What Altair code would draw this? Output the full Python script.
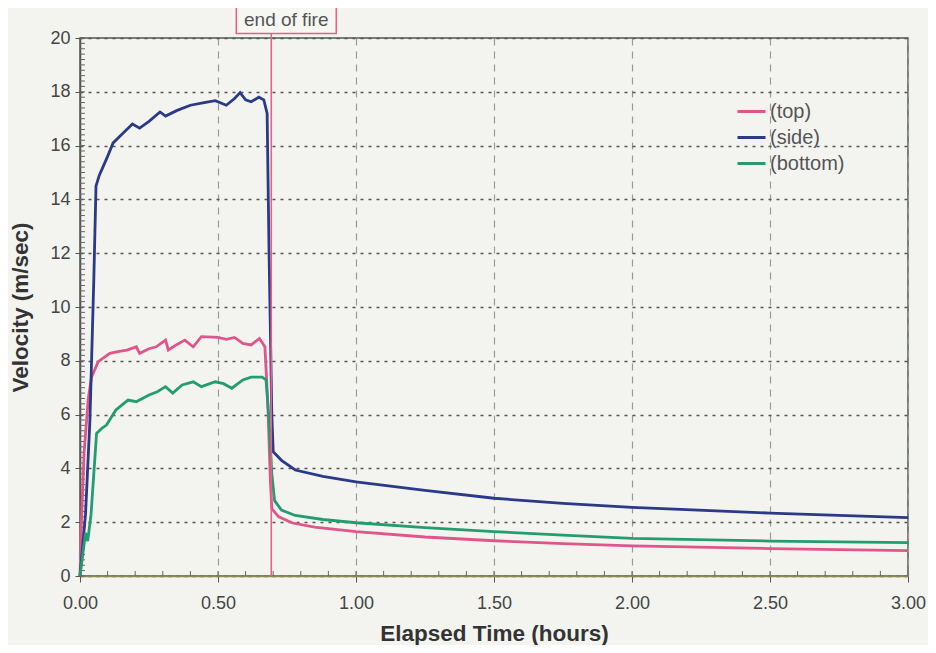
import altair as alt
import pandas as pd

# ---- data ----
top_t = [0, 0.005, 0.015, 0.03, 0.042, 0.066, 0.09, 0.108, 0.137, 0.17, 0.204, 0.216, 0.25, 0.276,
         0.31, 0.32, 0.35, 0.38, 0.41, 0.44, 0.5, 0.53, 0.56, 0.59, 0.62, 0.65, 0.67, 0.68, 0.69,
         0.695, 0.72, 0.77, 0.85, 1.0, 1.25, 1.5, 1.75, 2.0, 2.5, 3.0]
top_v = [0, 2.0, 4.6, 6.6, 7.4, 7.97, 8.15, 8.28, 8.34, 8.4, 8.52, 8.28, 8.45, 8.52,
         8.77, 8.4, 8.6, 8.77, 8.52, 8.9, 8.87, 8.8, 8.87, 8.65, 8.59, 8.83, 8.52, 6.5, 3.5,
         2.5, 2.2, 1.97, 1.82, 1.65, 1.45, 1.31, 1.2, 1.12, 1.02, 0.94]

side_t = [0, 0.02, 0.036, 0.05, 0.058, 0.07, 0.083, 0.1, 0.12, 0.15, 0.19, 0.216, 0.25, 0.29,
          0.31, 0.35, 0.40, 0.45, 0.49, 0.53, 0.56, 0.58, 0.60, 0.62, 0.648, 0.666, 0.678, 0.685,
          0.695, 0.70, 0.73, 0.78, 0.88, 1.0, 1.25, 1.5, 1.75, 2.0, 2.5, 3.0]
side_v = [0, 2.3, 5.8, 11, 14.5, 14.9, 15.2, 15.6, 16.1, 16.4, 16.8, 16.65, 16.9, 17.25,
          17.1, 17.3, 17.5, 17.6, 17.67, 17.5, 17.75, 17.97, 17.7, 17.63, 17.8, 17.7, 17.2, 12,
          6, 4.62, 4.3, 3.94, 3.7, 3.5, 3.18, 2.89, 2.7, 2.55, 2.34, 2.17]

bottom_t = [0, 0.01, 0.02, 0.028, 0.04, 0.05, 0.06, 0.08, 0.096, 0.13, 0.174, 0.204, 0.25, 0.28,
            0.31, 0.336, 0.37, 0.41, 0.44, 0.49, 0.52, 0.55, 0.59, 0.62, 0.66, 0.674, 0.685, 0.695,
            0.705, 0.73, 0.78, 0.88, 1.0, 1.25, 1.5, 1.75, 2.0, 2.5, 3.0]
bottom_v = [0, 0.8, 1.6, 1.3, 2.3, 3.8, 5.3, 5.5, 5.61, 6.17, 6.54, 6.48, 6.73, 6.85,
            7.04, 6.8, 7.1, 7.22, 7.04, 7.22, 7.15, 6.98, 7.29, 7.39, 7.39, 7.29, 5.8, 3.8,
            2.8, 2.45, 2.25, 2.1, 1.98, 1.8, 1.65, 1.52, 1.40, 1.3, 1.24]

series_names = ["(top)", "(side)", "(bottom)"]
series_colors = ["#e0558a", "#2b3a86", "#249c72"]

end_of_fire_t = [0.693]
end_of_fire_label = ["end of fire"]

x_ticks = [0, 0.5, 1.0, 1.5, 2.0, 2.5, 3.0]
y_ticks = [0, 2, 4, 6, 8, 10, 12, 14, 16, 18, 20]
x_minor = [i / 10 for i in range(31)]
y_minor = [i / 5 for i in range(101)]

rows = []
for name, ts, vs in zip(series_names, [top_t, side_t, bottom_t], [top_v, side_v, bottom_v]):
    for i, (t, v) in enumerate(zip(ts, vs)):
        rows.append({"series": name, "t": t, "v": v, "i": i})
df = pd.DataFrame(rows)

W, H = 828, 538
xs = alt.Scale(domain=[0, 3], nice=False)
ys = alt.Scale(domain=[0, 20], nice=False)

lines = alt.Chart(df).mark_line(strokeWidth=2.8).encode(
    x=alt.X("t:Q", scale=xs,
            axis=alt.Axis(values=x_ticks, format=".2f", title="Elapsed Time (hours)",
                          grid=True, gridDash=[7, 6], gridColor="#9a9a9a", gridWidth=1.2,
                          tickSize=6, tickColor="#555", domainColor="#8a8a50", domainWidth=1.5,
                          labelPadding=12, titlePadding=10, labelFlush=False)),
    y=alt.Y("v:Q", scale=ys,
            axis=alt.Axis(values=y_ticks, title="Velocity (m/sec)",
                          grid=True, gridDash=[3, 5], gridColor="#555", gridWidth=1.6,
                          tickSize=5, tickColor="#555", domainColor="#555", domainWidth=1.5,
                          labelPadding=5, titlePadding=17, labelFlush=False)),
    color=alt.Color("series:N", scale=alt.Scale(domain=series_names, range=series_colors),
                    legend=alt.Legend(title=None, orient="none", legendX=656, legendY=58)),
    order="i:Q",
)

xminor_df = pd.DataFrame({"t": x_minor})
xminor = alt.Chart(xminor_df).mark_rule(color="#666", strokeWidth=1).encode(
    x=alt.X("t:Q", scale=xs), y=alt.value(H), y2=alt.value(H - 5))

yminor_df = pd.DataFrame({"v": y_minor})
yminor = alt.Chart(yminor_df).mark_rule(color="#666", strokeWidth=1).encode(
    y=alt.Y("v:Q", scale=ys), x=alt.value(0), x2=alt.value(5))

fire_df = pd.DataFrame({"t": end_of_fire_t, "label": end_of_fire_label})
fire_rule = alt.Chart(fire_df).mark_rule(color="#e8608a", strokeWidth=1.6).encode(
    x=alt.X("t:Q", scale=xs), y=alt.value(-5), y2=alt.value(H))
fire_box = alt.Chart(fire_df).mark_point(
    shape="M-1,-0.27L1,-0.27L1,0.27L-1,0.27Z", size=10000, filled=False,
    stroke="#e8608a", strokeWidth=1.5, opacity=1, xOffset=15, fill="#f6f6f3", fillOpacity=1
).encode(x=alt.X("t:Q", scale=xs), y=alt.value(-18))
fire_text = alt.Chart(fire_df).mark_text(
    font="Liberation Sans", fontSize=19, color="#555", dx=15, baseline="middle", align="center"
).encode(x=alt.X("t:Q", scale=xs), y=alt.value(-18), text="label:N")

chart = alt.layer(xminor, yminor, lines, fire_rule, fire_box, fire_text).properties(
    width=W, height=H,
    autosize=alt.AutoSizeParams(type="none"),
    padding={"left": 72, "top": 30, "right": 20, "bottom": 69},
    background="#f3f4f0",
).configure_view(stroke="#4f5a56", strokeWidth=1.5).configure_axis(
    labelFont="Liberation Sans", labelFontSize=18, labelColor="#444",
    titleFont="Liberation Sans", titleFontSize=22.5, titleFontWeight="bold", titleColor="#333",
).configure_legend(
    symbolType="stroke", symbolSize=784, symbolStrokeWidth=3,
    labelFontSize=20, labelColor="#555", labelFont="Liberation Sans",
    labelOffset=3, rowPadding=0, padding=0, labelLimit=300,
)

chart.save("out.html", embed_options={"renderer": "svg", "actions": False})
